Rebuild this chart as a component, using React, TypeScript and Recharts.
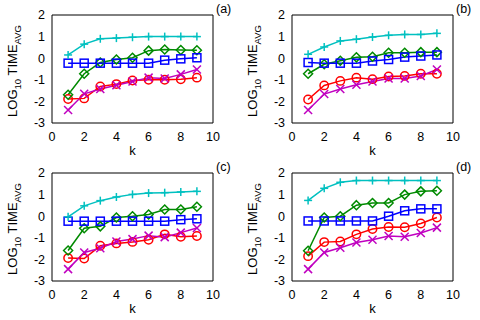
import React from 'react';
import { LineChart, Line, XAxis, YAxis, Customized } from 'recharts';

const kValues = [1, 2, 3, 4, 5, 6, 7, 8, 9];
const xTicks = [0, 2, 4, 6, 8, 10];
const yTicks = [-3, -2, -1, 0, 1, 2];

const cyanA = [0.15, 0.65, 0.9, 0.93, 0.97, 1.0, 1.0, 1.0, 1.0];
const greenA = [-1.69, -0.72, -0.2, -0.06, 0.02, 0.35, 0.4, 0.38, 0.37];
const blueA = [-0.23, -0.23, -0.23, -0.23, -0.23, -0.23, -0.09, -0.03, 0.02];
const redA = [-1.89, -1.86, -1.31, -1.2, -1.03, -1.0, -1.0, -0.98, -0.9];
const magentaA = [-2.4, -1.65, -1.43, -1.25, -1.08, -0.9, -0.94, -0.75, -0.52];

const cyanB = [0.18, 0.52, 0.8, 0.88, 0.98, 1.06, 1.1, 1.1, 1.15];
const greenB = [-0.72, -0.28, -0.12, 0.04, 0.07, 0.25, 0.25, 0.28, 0.28];
const blueB = [-0.2, -0.23, -0.23, -0.23, -0.13, -0.06, 0.05, 0.1, 0.15];
const redB = [-1.91, -1.26, -1.05, -0.9, -0.97, -0.85, -0.82, -0.72, -0.72];
const magentaB = [-2.4, -1.66, -1.43, -1.23, -1.08, -0.94, -0.94, -0.82, -0.52];

const cyanC = [-0.03, 0.48, 0.72, 0.89, 1.01, 1.07, 1.09, 1.12, 1.15];
const greenC = [-1.59, -0.56, -0.47, -0.06, 0.0, 0.08, 0.31, 0.31, 0.44];
const blueC = [-0.23, -0.23, -0.23, -0.23, -0.23, -0.23, -0.23, -0.16, -0.12];
const redC = [-1.94, -1.96, -1.37, -1.26, -1.19, -1.09, -0.84, -0.95, -0.92];
const magentaC = [-2.45, -1.68, -1.48, -1.17, -1.06, -0.9, -0.97, -0.76, -0.55];

const cyanD = [0.73, 1.29, 1.57, 1.65, 1.65, 1.65, 1.65, 1.65, 1.65];
const greenD = [-1.6, -0.06, 0.0, 0.51, 0.61, 0.61, 1.0, 1.15, 1.18];
const blueD = [-0.22, -0.22, -0.22, -0.22, -0.22, 0.0, 0.25, 0.34, 0.34];
const redD = [-1.85, -1.2, -1.17, -0.84, -0.59, -0.5, -0.51, -0.34, -0.06];
const magentaD = [-2.45, -1.68, -1.46, -1.22, -1.09, -0.92, -0.95, -0.78, -0.53];

const panelLabels = ['(a)', '(b)', '(c)', '(d)'];

const RED = '#ff0000';
const MAGENTA = '#c000c0';
const GREEN = '#008a00';
const BLUE = '#0000ff';
const CYAN = '#00c0c0';
const FONT = '"Liberation Sans", Arial, sans-serif';

const plusDot = (color: string) => (p: any) => {
  const { cx, cy, index } = p;
  if (cx == null || cy == null) return <g key={index} />;
  return (
    <g key={`p${index}`} stroke={color} strokeWidth={1.5}>
      <line x1={cx - 4} y1={cy} x2={cx + 4} y2={cy} />
      <line x1={cx} y1={cy - 4} x2={cx} y2={cy + 4} />
    </g>
  );
};
const crossDot = (color: string) => (p: any) => {
  const { cx, cy, index } = p;
  if (cx == null || cy == null) return <g key={index} />;
  return (
    <g key={`x${index}`} stroke={color} strokeWidth={1.5}>
      <line x1={cx - 4} y1={cy - 4} x2={cx + 4} y2={cy + 4} />
      <line x1={cx - 4} y1={cy + 4} x2={cx + 4} y2={cy - 4} />
    </g>
  );
};
const squareDot = (color: string) => (p: any) => {
  const { cx, cy, index } = p;
  if (cx == null || cy == null) return <g key={index} />;
  return <rect key={`s${index}`} x={cx - 4} y={cy - 4} width={8} height={8} fill="none" stroke={color} strokeWidth={1.5} />;
};
const circleDot = (color: string) => (p: any) => {
  const { cx, cy, index } = p;
  if (cx == null || cy == null) return <g key={index} />;
  return <circle key={`c${index}`} cx={cx} cy={cy} r={4.2} fill="none" stroke={color} strokeWidth={1.5} />;
};
const diamondDot = (color: string) => (p: any) => {
  const { cx, cy, index } = p;
  if (cx == null || cy == null) return <g key={index} />;
  return (
    <polygon
      key={`d${index}`}
      points={`${cx},${cy - 4.5} ${cx + 4.5},${cy} ${cx},${cy + 4.5} ${cx - 4.5},${cy}`}
      fill="none"
      stroke={color}
      strokeWidth={1.5}
    />
  );
};

type PanelProps = {
  label: string;
  cyan: number[];
  green: number[];
  blue: number[];
  red: number[];
  magenta: number[];
  top: number;
};

const Panel = ({ label, cyan, green, blue, red, magenta, top }: PanelProps) => {
  const data = kValues.map((k, i) => ({
    k,
    cyan: cyan[i],
    green: green[i],
    blue: blue[i],
    red: red[i],
    magenta: magenta[i],
  }));
  const plotH = 108;
  const bottom = 160 - top - plotH - 25;
  const shift = top - 15;
  const Overlay = () => (
    <g fontFamily={FONT} fill="#000">
      <text x={216} y={12.5 + shift} fontSize={12.5}>
        {label}
      </text>
      <text x={132.5} y={155 + shift} fontSize={13} textAnchor="middle">
        k
      </text>
      <text
        x={17}
        y={71 + shift}
        fontSize={13}
        textAnchor="middle"
        transform={`rotate(-90, 17, ${71 + shift})`}
      >
        LOG
        <tspan dy={4} fontSize={9.5}>
          10
        </tspan>
        <tspan dy={-4}> TIME</tspan>
        <tspan dy={4} fontSize={9.5}>
          AVG
        </tspan>
      </text>
    </g>
  );
  const tickStyle = { fontSize: 12.5, fontFamily: FONT, fill: '#000' };
  return (
    <LineChart width={240} height={160} data={data} margin={{ top, right: 27, left: 12, bottom }} style={{ overflow: 'visible' }}>
      <XAxis
        xAxisId="main"
        dataKey="k"
        type="number"
        domain={[0, 10]}
        ticks={xTicks}
        allowDataOverflow
        height={25}
        tickLine={false}
        tickSize={0}
        tickMargin={9}
        axisLine={{ stroke: '#000', strokeWidth: 1 }}
        tick={tickStyle}
      />
      <XAxis
        xAxisId="bm"
        dataKey="k"
        type="number"
        domain={[0, 10]}
        ticks={xTicks}
        orientation="bottom"
        mirror
        tick={false}
        tickSize={4}
        tickLine={{ stroke: '#999' }}
        axisLine={false}
      />
      <XAxis
        xAxisId="top"
        dataKey="k"
        type="number"
        domain={[0, 10]}
        ticks={xTicks}
        orientation="top"
        mirror
        tick={false}
        tickSize={4}
        tickLine={{ stroke: '#999' }}
        axisLine={{ stroke: '#000', strokeWidth: 1 }}
      />
      <YAxis
        yAxisId="main"
        type="number"
        domain={[-3, 2]}
        ticks={yTicks}
        allowDataOverflow
        width={40}
        tickLine={false}
        tickSize={0}
        tickMargin={7}
        axisLine={{ stroke: '#000', strokeWidth: 1 }}
        tick={tickStyle}
      />
      <YAxis
        yAxisId="lm"
        type="number"
        domain={[-3, 2]}
        ticks={yTicks}
        orientation="left"
        mirror
        tick={false}
        tickSize={4}
        tickLine={{ stroke: '#999' }}
        axisLine={false}
      />
      <YAxis
        yAxisId="right"
        type="number"
        domain={[-3, 2]}
        ticks={yTicks}
        orientation="right"
        mirror
        tick={false}
        tickSize={4}
        tickLine={{ stroke: '#999' }}
        axisLine={{ stroke: '#000', strokeWidth: 1 }}
      />
      <Line xAxisId="main" yAxisId="main" dataKey="red" stroke={RED} strokeWidth={1.5} dot={circleDot(RED)} isAnimationActive={false} />
      <Line xAxisId="main" yAxisId="main" dataKey="magenta" stroke={MAGENTA} strokeWidth={1.5} dot={crossDot(MAGENTA)} isAnimationActive={false} />
      <Line xAxisId="main" yAxisId="main" dataKey="green" stroke={GREEN} strokeWidth={1.5} dot={diamondDot(GREEN)} isAnimationActive={false} />
      <Line xAxisId="main" yAxisId="main" dataKey="blue" stroke={BLUE} strokeWidth={1.5} dot={squareDot(BLUE)} isAnimationActive={false} />
      <Line xAxisId="main" yAxisId="main" dataKey="cyan" stroke={CYAN} strokeWidth={1.5} dot={plusDot(CYAN)} isAnimationActive={false} />
      <Customized component={Overlay} />
    </LineChart>
  );
};

export default function App() {
  return (
    <div style={{ position: 'absolute', left: 0, top: 0, width: 480, height: 320, background: '#fff' }}>
      <div style={{ position: 'absolute', left: 0, top: 0 }}>
        <Panel label={panelLabels[0]} cyan={cyanA} green={greenA} blue={blueA} red={redA} magenta={magentaA} top={15} />
      </div>
      <div style={{ position: 'absolute', left: 240, top: 0 }}>
        <Panel label={panelLabels[1]} cyan={cyanB} green={greenB} blue={blueB} red={redB} magenta={magentaB} top={15} />
      </div>
      <div style={{ position: 'absolute', left: 0, top: 160 }}>
        <Panel label={panelLabels[2]} cyan={cyanC} green={greenC} blue={blueC} red={redC} magenta={magentaC} top={13} />
      </div>
      <div style={{ position: 'absolute', left: 240, top: 160 }}>
        <Panel label={panelLabels[3]} cyan={cyanD} green={greenD} blue={blueD} red={redD} magenta={magentaD} top={13} />
      </div>
    </div>
  );
}
